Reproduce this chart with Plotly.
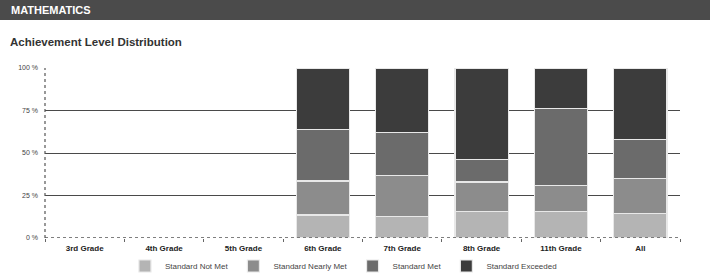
import plotly.graph_objects as go

categories = ["3rd Grade", "4th Grade", "5th Grade", "6th Grade", "7th Grade", "8th Grade", "11th Grade", "All"]
not_met = [None, None, None, 13.5, 12.5, 15.5, 15.5, 14.5]
nearly_met = [None, None, None, 20.0, 24.5, 17.5, 15.5, 20.5]
met = [None, None, None, 30.5, 25.0, 13.0, 45.0, 23.0]
exceeded = [None, None, None, 36.0, 38.0, 54.0, 24.0, 42.0]
series_names = ["Standard Not Met", "Standard Nearly Met", "Standard Met", "Standard Exceeded"]
colors = ["#b4b4b4", "#8c8c8c", "#6b6b6b", "#3c3c3c"]
y_ticks = [0, 25, 50, 75, 100]
y_tick_labels = ["0 %", "25 %", "50 %", "75 %", "100 %"]

W, H = 710, 274
ML, MR, MT, MB = 45, 30, 68, 36
pw, ph = W - ML - MR, H - MT - MB

def px_x(p):
    return (p - ML) / pw

def px_y(p):
    return 1 - (p - MT) / ph

fig = go.Figure()
for name, vals, c in zip(series_names, [not_met, nearly_met, met, exceeded], colors):
    fig.add_trace(go.Bar(
        x=categories, y=vals, name=name,
        marker=dict(color=c, line=dict(color="#e8e8e8", width=1.2)),
    ))

font = "Liberation Sans, Arial, sans-serif"
fig.update_layout(
    width=W, height=H,
    margin=dict(l=ML, r=MR, t=MT, b=MB, pad=0, autoexpand=False),
    barmode="stack", bargap=0.33,
    paper_bgcolor="white", plot_bgcolor="white",
    font=dict(family=font, size=8, color="#333"),
    showlegend=True,
    legend=dict(orientation="h", x=0.47, xanchor="center", yref="container", y=(H - 266) / H,
                yanchor="middle",
                font=dict(size=8, color="#444"), itemwidth=30, traceorder="normal",
                bgcolor="rgba(0,0,0,0)"),
    xaxis=dict(showgrid=False, showline=False, zeroline=False, ticks="outside",
               tickson="boundaries", ticklen=3, tickcolor="#666", ticklabelstandoff=4,
               tickfont=dict(size=8, color="#222", family="Liberation Sans, Arial", weight="bold")),
    yaxis=dict(range=[0, 100], tickvals=y_ticks, ticktext=y_tick_labels,
               showgrid=True, gridcolor="#4a4a4a", gridwidth=1.3, zeroline=False,
               showline=False, ticks="", ticklabelstandoff=6, tickfont=dict(size=7, color="#444")),
)

shapes = [
    # header band
    dict(type="rect", xref="paper", yref="paper", x0=px_x(0), x1=px_x(W), y0=px_y(20), y1=px_y(0),
         fillcolor="#4b4b4b", line=dict(width=0), layer="below"),
    # dotted y axis line
    dict(type="line", xref="paper", yref="paper", x0=0, x1=0, y0=0, y1=1,
         line=dict(color="#555", width=1.2, dash="dot")),
    # dotted zero line
    dict(type="line", xref="paper", yref="y", x0=0, x1=1, y0=0, y1=0,
         line=dict(color="#555", width=1.3, dash="dot")),
]
fig.update_layout(shapes=shapes)

fig.add_annotation(text="<b>MATHEMATICS</b>", xref="paper", yref="paper",
                   x=px_x(9), y=px_y(10), xanchor="left", yanchor="middle", showarrow=False,
                   font=dict(size=11, color="white", family=font))
fig.add_annotation(text="<b>Achievement Level Distribution</b>", xref="paper", yref="paper",
                   x=px_x(8), y=px_y(42), xanchor="left", yanchor="middle", showarrow=False,
                   font=dict(size=11.5, color="#333", family=font))

fig.write_html("out.html", config={"displayModeBar": False},
               post_script="document.body.style.margin='0';document.body.style.overflow='hidden';")
